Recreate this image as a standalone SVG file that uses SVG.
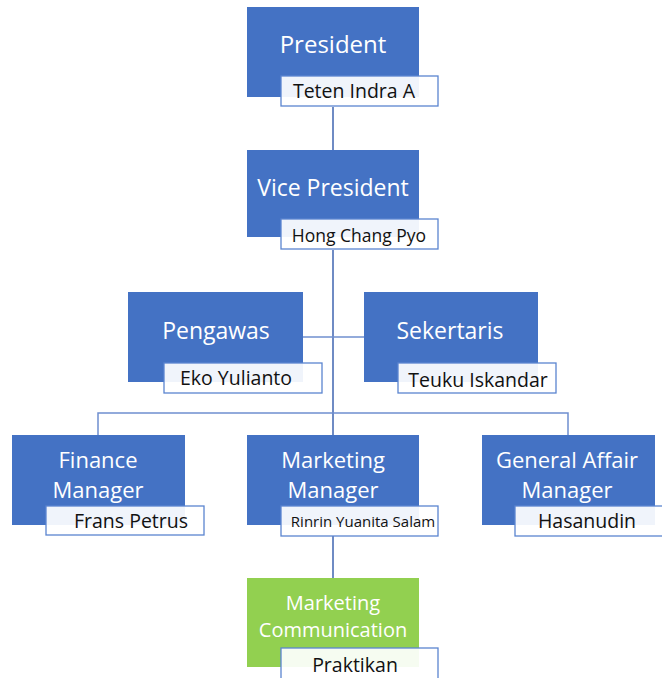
<svg xmlns="http://www.w3.org/2000/svg" width="662" height="678" viewBox="0 0 662 678">
<style>
.box{fill:#4472C4;}
.green{fill:#92D050;}
.lbl{fill:#FFFFFF;fill-opacity:0.92;stroke:#5B85D0;stroke-width:1.3;}
.t{font-family:"Open Sans","Liberation Sans",sans-serif;fill:#FFFFFF;font-size:23px;text-anchor:middle;}
.t2{font-family:"Open Sans","Liberation Sans",sans-serif;fill:#FFFFFF;font-size:22px;text-anchor:middle;}
.n{font-family:"Open Sans","Liberation Sans",sans-serif;fill:#111111;font-size:19.5px;text-anchor:middle;}
.c{fill:none;stroke:#6F8FCF;stroke-width:1.5;}
.cv{fill:none;stroke:#3F64B0;stroke-width:1.5;}
</style>
<rect width="662" height="678" fill="#FFFFFF"/>
<g id="connectors">
<line class="cv" x1="333" y1="107" x2="333" y2="150"/>
<line class="cv" x1="333" y1="250" x2="333" y2="435"/>
<line class="c" x1="303" y1="337" x2="364" y2="337"/>
<polyline class="c" points="98,435 98,413 568,413 568,435"/>
<line class="cv" x1="333" y1="536" x2="333" y2="578"/>
</g>
<g id="president">
<rect class="box" x="247" y="7" width="172" height="90"/>
<text class="t" x="333" y="53" style="font-size:24px">President</text>
<rect class="lbl" x="281" y="76" width="157" height="30"/>
<text class="n" x="354" y="98">Teten Indra A</text>
</g>
<g id="vice-president">
<rect class="box" x="247" y="150" width="172" height="87"/>
<text class="t" x="333" y="196">Vice President</text>
<rect class="lbl" x="281" y="219" width="157" height="30"/>
<text class="n" x="359" y="242" style="font-size:17.5px">Hong Chang Pyo</text>
</g>
<g id="pengawas">
<rect class="box" x="128" y="292" width="175" height="90"/>
<text class="t" x="216" y="339">Pengawas</text>
<rect class="lbl" x="164" y="363" width="158" height="30"/>
<text class="n" x="236" y="385">Eko Yulianto</text>
</g>
<g id="sekertaris">
<rect class="box" x="364" y="292" width="174" height="90"/>
<text class="t" x="450" y="339">Sekertaris</text>
<rect class="lbl" x="398" y="363" width="158" height="30"/>
<text class="n" x="478" y="387">Teuku Iskandar</text>
</g>
<g id="finance-manager">
<rect class="box" x="12" y="435" width="173" height="90"/>
<text class="t2" x="98" y="468">Finance</text>
<text class="t2" x="98" y="498">Manager</text>
<rect class="lbl" x="46" y="506" width="158" height="29"/>
<text class="n" x="131" y="528">Frans Petrus</text>
</g>
<g id="marketing-manager">
<rect class="box" x="247" y="435" width="172" height="90"/>
<text class="t2" x="333" y="468">Marketing</text>
<text class="t2" x="333" y="498">Manager</text>
<rect class="lbl" x="281" y="506" width="157" height="30"/>
<text class="n" x="363" y="527" style="font-size:15px">Rinrin Yuanita Salam</text>
</g>
<g id="general-affair-manager">
<rect class="box" x="482" y="435" width="173" height="90"/>
<text class="t2" x="567" y="468">General Affair</text>
<text class="t2" x="567" y="498">Manager</text>
<rect class="lbl" x="515" y="506" width="160" height="30"/>
<text class="n" x="587" y="528">Hasanudin</text>
</g>
<g id="marketing-communication">
<rect class="green" x="247" y="578" width="172" height="89"/>
<text class="t" x="333" y="610" style="font-size:20px">Marketing</text>
<text class="t" x="333" y="637" style="font-size:20px">Communication</text>
<rect class="lbl" x="281" y="648" width="157" height="35"/>
<text class="n" x="355" y="672">Praktikan</text>
</g>
</svg>
